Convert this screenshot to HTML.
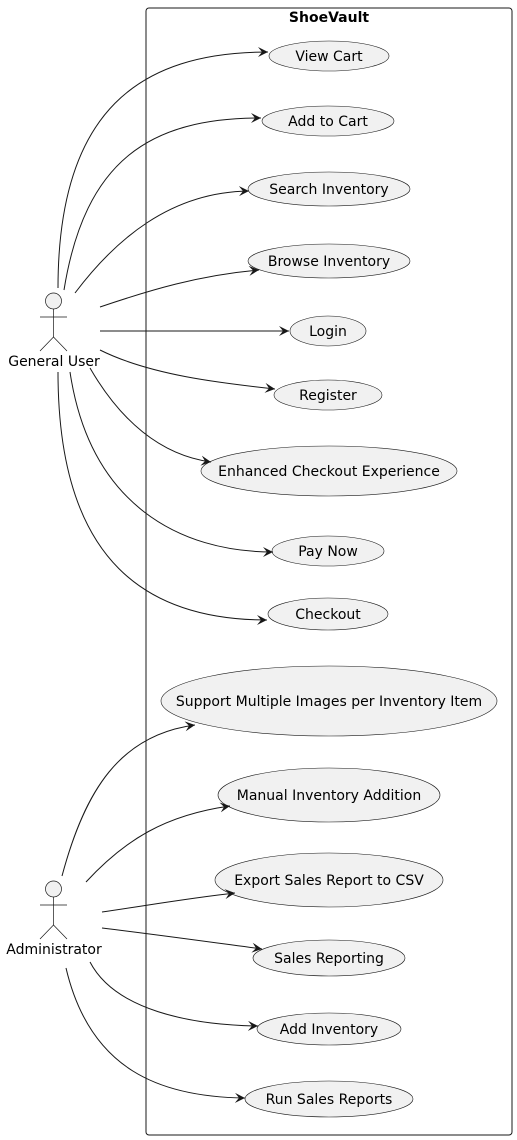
<!DOCTYPE html>
<html><head><meta charset="utf-8"><style>
html,body{margin:0;padding:0;background:#fff}
svg{display:block}
text{font-family:"DejaVu Sans","Liberation Sans",sans-serif;font-size:14px;fill:#000}
</style></head><body>
<svg width="517" height="1140" viewBox="0 0 517 1140" xmlns="http://www.w3.org/2000/svg">
<defs>
<marker id="a" markerWidth="12" markerHeight="10" refX="10" refY="5" orient="auto" markerUnits="userSpaceOnUse">
<path d="M0,0 L10,5 L0,10 L4,5 Z" fill="#181818"/>
</marker>
</defs>
<rect x="146" y="8" width="366" height="1127" rx="3" fill="#fff" stroke="#181818" stroke-width="1"/>
<text x="329" y="22" text-anchor="middle" font-weight="bold">ShoeVault</text>

<g fill="#f1f1f1" stroke="#181818" stroke-width="0.6">
<ellipse cx="329" cy="56" rx="60" ry="15"/>
<ellipse cx="328" cy="121" rx="66" ry="15"/>
<ellipse cx="329" cy="189" rx="81" ry="17"/>
<ellipse cx="329" cy="261" rx="81" ry="17"/>
<ellipse cx="328" cy="331" rx="38" ry="15"/>
<ellipse cx="328" cy="395" rx="54" ry="15"/>
<ellipse cx="329" cy="471" rx="128" ry="25"/>
<ellipse cx="328" cy="551" rx="56" ry="15"/>
<ellipse cx="328" cy="614" rx="60" ry="16"/>
<ellipse cx="329" cy="701" rx="168" ry="35"/>
<ellipse cx="329" cy="795" rx="111" ry="27"/>
<ellipse cx="329" cy="880" rx="114" ry="27"/>
<ellipse cx="329" cy="958" rx="76" ry="18"/>
<ellipse cx="329" cy="1029" rx="72" ry="16"/>
<ellipse cx="329" cy="1099" rx="84" ry="18"/>
</g>
<g text-anchor="middle">
<text x="329" y="61">View Cart</text>
<text x="328" y="126">Add to Cart</text>
<text x="329" y="194">Search Inventory</text>
<text x="329" y="266">Browse Inventory</text>
<text x="328" y="336">Login</text>
<text x="328" y="400">Register</text>
<text x="329" y="476">Enhanced Checkout Experience</text>
<text x="328" y="556">Pay Now</text>
<text x="328" y="619">Checkout</text>
<text x="329" y="706">Support Multiple Images per Inventory Item</text>
<text x="329" y="800">Manual Inventory Addition</text>
<text x="329" y="885">Export Sales Report to CSV</text>
<text x="329" y="963">Sales Reporting</text>
<text x="329" y="1034">Add Inventory</text>
<text x="329" y="1104">Run Sales Reports</text>
</g>

<g fill="#f1f1f1" stroke="#181818" stroke-width="0.7">
<circle cx="53.5" cy="301" r="8"/>
<line x1="53.5" y1="309" x2="53.5" y2="337"/>
<line x1="40" y1="317" x2="67" y2="317"/>
<path d="M40,351 L53.5,337 L67,351" fill="none"/>
<circle cx="53.5" cy="889" r="8"/>
<line x1="53.5" y1="897" x2="53.5" y2="925"/>
<line x1="40" y1="905" x2="67" y2="905"/>
<path d="M40,939 L53.5,925 L67,939" fill="none"/>
</g>
<text x="54" y="366" text-anchor="middle">General User</text>
<text x="54" y="954" text-anchor="middle">Administrator</text>

<g fill="none" stroke="#181818" stroke-width="1" marker-end="url(#a)">
<path d="M58,288 C58,110 140,52 268,52"/>
<path d="M64,290 C85,160 150,118 261,118"/>
<path d="M75,293 C115,240 170,192 249,191"/>
<path d="M100,307 C150,290 200,275 259,270"/>
<path d="M100,331 L289,331"/>
<path d="M100,350 C150,375 220,383 275,389"/>
<path d="M90,368 C120,420 160,455 211,462"/>
<path d="M70,372 C90,505 180,552 273,552"/>
<path d="M58,372 C58,565 150,620 267,620"/>
<path d="M62,876 C85,790 120,735 195,725"/>
<path d="M86,882 C125,840 165,815 230,806"/>
<path d="M102,912 C150,905 190,898 235,893"/>
<path d="M102,928 C160,935 210,942 262,949"/>
<path d="M90,962 C115,1010 190,1025 258,1026"/>
<path d="M66,968 C90,1070 160,1097 245,1098"/>
</g>
</svg>
</body></html>
